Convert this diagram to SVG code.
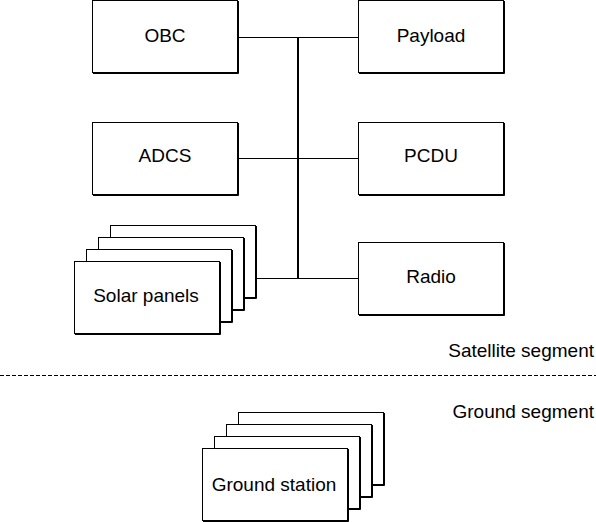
<svg xmlns="http://www.w3.org/2000/svg" width="596" height="522" viewBox="0 0 596 522">
<style>
.box{fill:#fff;stroke:#000;stroke-width:1}
.sh{fill:none;stroke:#000;stroke-width:1}
.lbl{font-family:"Liberation Sans",Arial,sans-serif;font-size:19px;fill:#000;text-anchor:middle}
.seg{font-family:"Liberation Sans",Arial,sans-serif;font-size:19px;fill:#000;text-anchor:end}
.wire{stroke:#000;stroke-width:1;fill:none}
.bus{stroke:#000;stroke-width:2;fill:none}
</style>
<rect width="596" height="522" fill="#fff"/>
<g id="connectors">
<line class="bus" x1="298" y1="37" x2="298" y2="279"/>
<line class="wire" x1="237" y1="37.5" x2="358" y2="37.5"/>
<line class="wire" x1="237" y1="158.5" x2="358" y2="158.5"/>
<line class="wire" x1="255" y1="278.5" x2="358" y2="278.5"/>
<line x1="0" y1="375.5" x2="596" y2="375.5" stroke="#000" stroke-width="1" stroke-dasharray="4,2"/>
</g>
<g id="obc">
<rect class="box" x="92.5" y="0.5" width="145" height="72"/>
<polyline class="sh" points="238.5,1 238.5,73.5 93,73.5"/>
<text class="lbl" x="165" y="42">OBC</text>
</g>
<g id="payload">
<rect class="box" x="358.5" y="0.5" width="145" height="72"/>
<polyline class="sh" points="504.5,1 504.5,73.5 359,73.5"/>
<text class="lbl" x="431" y="42">Payload</text>
</g>
<g id="adcs">
<rect class="box" x="92.5" y="122.5" width="145" height="72"/>
<polyline class="sh" points="238.5,123 238.5,195.5 93,195.5"/>
<text class="lbl" x="165" y="162">ADCS</text>
</g>
<g id="pcdu">
<rect class="box" x="358.5" y="122.5" width="145" height="72"/>
<polyline class="sh" points="504.5,123 504.5,195.5 359,195.5"/>
<text class="lbl" x="431" y="162">PCDU</text>
</g>
<g id="radio">
<rect class="box" x="358.5" y="242.5" width="145" height="72"/>
<polyline class="sh" points="504.5,243 504.5,315.5 359,315.5"/>
<text class="lbl" x="431" y="283">Radio</text>
</g>
<g id="solar-panels">
<rect class="box" x="110.5" y="225.5" width="145" height="72"/>
<polyline class="sh" points="256.5,226 256.5,298.5 111,298.5"/>
<rect class="box" x="98.5" y="237.5" width="145" height="72"/>
<polyline class="sh" points="244.5,238 244.5,310.5 99,310.5"/>
<rect class="box" x="86.5" y="249.5" width="145" height="72"/>
<polyline class="sh" points="232.5,250 232.5,322.5 87,322.5"/>
<rect class="box" x="74.5" y="261.5" width="145" height="72"/>
<polyline class="sh" points="220.5,262 220.5,334.5 75,334.5"/>
<text class="lbl" x="146" y="302">Solar panels</text>
</g>
<text class="seg" x="594" y="357">Satellite segment</text>
<text class="seg" x="594" y="418">Ground segment</text>
<g id="ground-station">
<rect class="box" x="238.5" y="412.5" width="145" height="72"/>
<polyline class="sh" points="384.5,413 384.5,485.5 239,485.5"/>
<rect class="box" x="226.5" y="424.5" width="145" height="72"/>
<polyline class="sh" points="372.5,425 372.5,497.5 227,497.5"/>
<rect class="box" x="214.5" y="436.5" width="145" height="72"/>
<polyline class="sh" points="360.5,437 360.5,509.5 215,509.5"/>
<rect class="box" x="202.5" y="448.5" width="145" height="72"/>
<polyline class="sh" points="348.5,449 348.5,521.5 203,521.5"/>
<text class="lbl" x="274" y="491">Ground station</text>
</g>
</svg>
